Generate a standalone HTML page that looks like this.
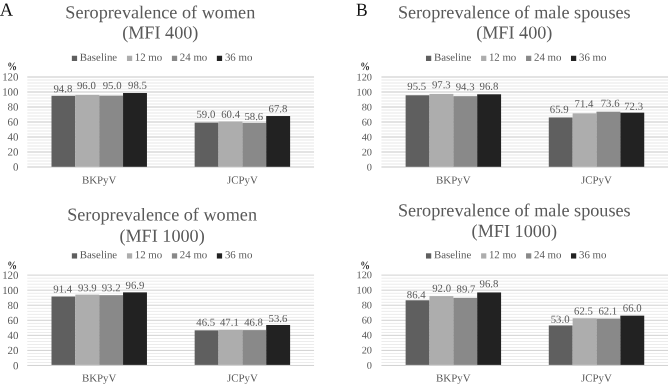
<!DOCTYPE html><html><head><meta charset="utf-8"><title>Seroprevalence</title>
<style>html,body{margin:0;padding:0;background:#fff;overflow:hidden}svg{display:block;will-change:transform;text-rendering:geometricPrecision}text{font-family:"Liberation Serif", serif;fill:#595959}</style></head><body>
<svg width="668" height="385" viewBox="0 0 668 385">
<rect width="668" height="385" fill="#fff"/>
<text x="-0.2" y="15.85" font-size="18.5" style="fill:#111" transform="rotate(0.03 -0.2 15.85)">A</text>
<text x="356.0" y="15.7" font-size="18.3" textLength="11.7" lengthAdjust="spacingAndGlyphs" style="fill:#111" transform="rotate(0.03 356.0 15.7)">B</text>
<rect x="27.27" y="163.50" width="286.79" height="1.0" fill="#e8e8e8"/>
<rect x="27.27" y="160.50" width="286.79" height="1.0" fill="#e8e8e8"/>
<rect x="27.27" y="157.50" width="286.79" height="1.0" fill="#e8e8e8"/>
<rect x="27.27" y="154.50" width="286.79" height="1.0" fill="#e8e8e8"/>
<rect x="27.27" y="148.50" width="286.79" height="1.0" fill="#e8e8e8"/>
<rect x="27.27" y="145.50" width="286.79" height="1.0" fill="#e8e8e8"/>
<rect x="27.27" y="142.50" width="286.79" height="1.0" fill="#e8e8e8"/>
<rect x="27.27" y="139.50" width="286.79" height="1.0" fill="#e8e8e8"/>
<rect x="27.27" y="133.50" width="286.79" height="1.0" fill="#e8e8e8"/>
<rect x="27.27" y="130.50" width="286.79" height="1.0" fill="#e8e8e8"/>
<rect x="27.27" y="127.50" width="286.79" height="1.0" fill="#e8e8e8"/>
<rect x="27.27" y="124.50" width="286.79" height="1.0" fill="#e8e8e8"/>
<rect x="27.27" y="118.50" width="286.79" height="1.0" fill="#e8e8e8"/>
<rect x="27.27" y="115.50" width="286.79" height="1.0" fill="#e8e8e8"/>
<rect x="27.27" y="112.50" width="286.79" height="1.0" fill="#e8e8e8"/>
<rect x="27.27" y="109.50" width="286.79" height="1.0" fill="#e8e8e8"/>
<rect x="27.27" y="103.50" width="286.79" height="1.0" fill="#e8e8e8"/>
<rect x="27.27" y="100.50" width="286.79" height="1.0" fill="#e8e8e8"/>
<rect x="27.27" y="97.50" width="286.79" height="1.0" fill="#e8e8e8"/>
<rect x="27.27" y="94.50" width="286.79" height="1.0" fill="#e8e8e8"/>
<rect x="27.27" y="88.50" width="286.79" height="1.0" fill="#e8e8e8"/>
<rect x="27.27" y="85.50" width="286.79" height="1.0" fill="#e8e8e8"/>
<rect x="27.27" y="82.50" width="286.79" height="1.0" fill="#e8e8e8"/>
<rect x="27.27" y="79.50" width="286.79" height="1.0" fill="#e8e8e8"/>
<rect x="27.27" y="166.30" width="286.79" height="1.4" fill="#d8d8d8"/>
<text x="18.47" y="170.55" font-size="10.9" text-anchor="end" transform="rotate(0.03 18.47 170.55)">0</text>
<rect x="27.27" y="151.30" width="286.79" height="1.4" fill="#d8d8d8"/>
<text x="18.47" y="155.55" font-size="10.9" text-anchor="end" transform="rotate(0.03 18.47 155.55)">20</text>
<rect x="27.27" y="136.30" width="286.79" height="1.4" fill="#d8d8d8"/>
<text x="18.47" y="140.55" font-size="10.9" text-anchor="end" transform="rotate(0.03 18.47 140.55)">40</text>
<rect x="27.27" y="121.30" width="286.79" height="1.4" fill="#d8d8d8"/>
<text x="18.47" y="125.55" font-size="10.9" text-anchor="end" transform="rotate(0.03 18.47 125.55)">60</text>
<rect x="27.27" y="106.30" width="286.79" height="1.4" fill="#d8d8d8"/>
<text x="18.47" y="110.55" font-size="10.9" text-anchor="end" transform="rotate(0.03 18.47 110.55)">80</text>
<rect x="27.27" y="91.30" width="286.79" height="1.4" fill="#d8d8d8"/>
<text x="18.47" y="95.55" font-size="10.9" text-anchor="end" transform="rotate(0.03 18.47 95.55)">100</text>
<rect x="27.27" y="76.30" width="286.79" height="1.4" fill="#d8d8d8"/>
<text x="18.47" y="80.55" font-size="10.9" text-anchor="end" transform="rotate(0.03 18.47 80.55)">120</text>
<text x="160.3" y="18.30" font-size="18.2" text-anchor="middle" transform="rotate(0.03 160.3 18.30)">Seroprevalence of women</text>
<text x="160.3" y="38.50" font-size="18.2" text-anchor="middle" transform="rotate(0.03 160.3 38.50)">(MFI 400)</text>
<rect x="71.85" y="55.75" width="5.25" height="5.25" fill="#5f5f5f"/>
<text x="79.80" y="60.75" font-size="10.85" transform="rotate(0.03 79.80 60.75)">Baseline</text>
<rect x="126.95" y="55.75" width="5.25" height="5.25" fill="#adadad"/>
<text x="134.75" y="60.75" font-size="10.85" transform="rotate(0.03 134.75 60.75)">12 mo</text>
<rect x="171.90" y="55.75" width="5.25" height="5.25" fill="#898989"/>
<text x="179.85" y="60.75" font-size="10.85" transform="rotate(0.03 179.85 60.75)">24 mo</text>
<rect x="216.85" y="55.75" width="5.25" height="5.25" fill="#222222"/>
<text x="224.90" y="60.75" font-size="10.85" transform="rotate(0.03 224.90 60.75)">36 mo</text>
<text x="12.25" y="70.3" font-size="11.4" font-weight="bold" text-anchor="middle" textLength="9.8" lengthAdjust="spacingAndGlyphs" style="fill:#2a2a2a" transform="rotate(0.03 12.25 70.3)">%</text>
<rect x="51.50" y="95.80" width="23.90" height="71.00" fill="#5f5f5f"/>
<text x="62.90" y="92.30" font-size="10.75" text-anchor="middle" transform="rotate(0.03 62.90 92.30)">94.8</text>
<rect x="75.35" y="94.90" width="23.90" height="71.90" fill="#adadad"/>
<text x="86.40" y="89.00" font-size="10.75" text-anchor="middle" transform="rotate(0.03 86.40 89.00)">96.0</text>
<rect x="99.20" y="95.65" width="23.90" height="71.15" fill="#898989"/>
<text x="112.10" y="89.00" font-size="10.75" text-anchor="middle" transform="rotate(0.03 112.10 89.00)">95.0</text>
<rect x="123.05" y="93.02" width="23.90" height="73.78" fill="#222222"/>
<text x="137.50" y="88.65" font-size="10.75" text-anchor="middle" transform="rotate(0.03 137.50 88.65)">98.5</text>
<text x="99.20" y="183.4" font-size="10.9" text-anchor="middle" transform="rotate(0.03 99.20 183.4)">BKPyV</text>
<rect x="194.66" y="122.63" width="23.90" height="44.17" fill="#5f5f5f"/>
<text x="205.90" y="117.70" font-size="10.75" text-anchor="middle" transform="rotate(0.03 205.90 117.70)">59.0</text>
<rect x="218.51" y="121.58" width="23.90" height="45.22" fill="#adadad"/>
<text x="230.60" y="117.70" font-size="10.75" text-anchor="middle" transform="rotate(0.03 230.60 117.70)">60.4</text>
<rect x="242.36" y="122.93" width="23.90" height="43.87" fill="#898989"/>
<text x="253.80" y="120.10" font-size="10.75" text-anchor="middle" transform="rotate(0.03 253.80 120.10)">58.6</text>
<rect x="266.21" y="116.03" width="23.90" height="50.77" fill="#222222"/>
<text x="278.00" y="112.30" font-size="10.75" text-anchor="middle" transform="rotate(0.03 278.00 112.30)">67.8</text>
<text x="242.36" y="183.4" font-size="10.9" text-anchor="middle" transform="rotate(0.03 242.36 183.4)">JCPyV</text>
<rect x="381.40" y="163.50" width="286.79" height="1.0" fill="#e8e8e8"/>
<rect x="381.40" y="160.50" width="286.79" height="1.0" fill="#e8e8e8"/>
<rect x="381.40" y="157.50" width="286.79" height="1.0" fill="#e8e8e8"/>
<rect x="381.40" y="154.50" width="286.79" height="1.0" fill="#e8e8e8"/>
<rect x="381.40" y="148.50" width="286.79" height="1.0" fill="#e8e8e8"/>
<rect x="381.40" y="145.50" width="286.79" height="1.0" fill="#e8e8e8"/>
<rect x="381.40" y="142.50" width="286.79" height="1.0" fill="#e8e8e8"/>
<rect x="381.40" y="139.50" width="286.79" height="1.0" fill="#e8e8e8"/>
<rect x="381.40" y="133.50" width="286.79" height="1.0" fill="#e8e8e8"/>
<rect x="381.40" y="130.50" width="286.79" height="1.0" fill="#e8e8e8"/>
<rect x="381.40" y="127.50" width="286.79" height="1.0" fill="#e8e8e8"/>
<rect x="381.40" y="124.50" width="286.79" height="1.0" fill="#e8e8e8"/>
<rect x="381.40" y="118.50" width="286.79" height="1.0" fill="#e8e8e8"/>
<rect x="381.40" y="115.50" width="286.79" height="1.0" fill="#e8e8e8"/>
<rect x="381.40" y="112.50" width="286.79" height="1.0" fill="#e8e8e8"/>
<rect x="381.40" y="109.50" width="286.79" height="1.0" fill="#e8e8e8"/>
<rect x="381.40" y="103.50" width="286.79" height="1.0" fill="#e8e8e8"/>
<rect x="381.40" y="100.50" width="286.79" height="1.0" fill="#e8e8e8"/>
<rect x="381.40" y="97.50" width="286.79" height="1.0" fill="#e8e8e8"/>
<rect x="381.40" y="94.50" width="286.79" height="1.0" fill="#e8e8e8"/>
<rect x="381.40" y="88.50" width="286.79" height="1.0" fill="#e8e8e8"/>
<rect x="381.40" y="85.50" width="286.79" height="1.0" fill="#e8e8e8"/>
<rect x="381.40" y="82.50" width="286.79" height="1.0" fill="#e8e8e8"/>
<rect x="381.40" y="79.50" width="286.79" height="1.0" fill="#e8e8e8"/>
<rect x="381.40" y="166.30" width="286.79" height="1.4" fill="#d8d8d8"/>
<text x="372.00" y="170.55" font-size="10.35" text-anchor="end" transform="rotate(0.03 372.00 170.55)">0</text>
<rect x="381.40" y="151.30" width="286.79" height="1.4" fill="#d8d8d8"/>
<text x="372.00" y="155.55" font-size="10.35" text-anchor="end" transform="rotate(0.03 372.00 155.55)">20</text>
<rect x="381.40" y="136.30" width="286.79" height="1.4" fill="#d8d8d8"/>
<text x="372.00" y="140.55" font-size="10.35" text-anchor="end" transform="rotate(0.03 372.00 140.55)">40</text>
<rect x="381.40" y="121.30" width="286.79" height="1.4" fill="#d8d8d8"/>
<text x="372.00" y="125.55" font-size="10.35" text-anchor="end" transform="rotate(0.03 372.00 125.55)">60</text>
<rect x="381.40" y="106.30" width="286.79" height="1.4" fill="#d8d8d8"/>
<text x="372.00" y="110.55" font-size="10.35" text-anchor="end" transform="rotate(0.03 372.00 110.55)">80</text>
<rect x="381.40" y="91.30" width="286.79" height="1.4" fill="#d8d8d8"/>
<text x="372.00" y="95.55" font-size="10.35" text-anchor="end" transform="rotate(0.03 372.00 95.55)">100</text>
<rect x="381.40" y="76.30" width="286.79" height="1.4" fill="#d8d8d8"/>
<text x="372.00" y="80.55" font-size="10.35" text-anchor="end" transform="rotate(0.03 372.00 80.55)">120</text>
<text x="514.3" y="18.30" font-size="18.2" text-anchor="middle" transform="rotate(0.03 514.3 18.30)">Seroprevalence of male spouses</text>
<text x="514.3" y="38.50" font-size="18.2" text-anchor="middle" transform="rotate(0.03 514.3 38.50)">(MFI 400)</text>
<rect x="425.98" y="55.75" width="5.25" height="5.25" fill="#5f5f5f"/>
<text x="433.93" y="60.75" font-size="10.85" transform="rotate(0.03 433.93 60.75)">Baseline</text>
<rect x="481.08" y="55.75" width="5.25" height="5.25" fill="#adadad"/>
<text x="488.88" y="60.75" font-size="10.85" transform="rotate(0.03 488.88 60.75)">12 mo</text>
<rect x="526.03" y="55.75" width="5.25" height="5.25" fill="#898989"/>
<text x="533.98" y="60.75" font-size="10.85" transform="rotate(0.03 533.98 60.75)">24 mo</text>
<rect x="570.98" y="55.75" width="5.25" height="5.25" fill="#222222"/>
<text x="579.03" y="60.75" font-size="10.85" transform="rotate(0.03 579.03 60.75)">36 mo</text>
<text x="365.08" y="70.3" font-size="11.4" font-weight="bold" text-anchor="middle" textLength="9.8" lengthAdjust="spacingAndGlyphs" style="fill:#2a2a2a" transform="rotate(0.03 365.08 70.3)">%</text>
<rect x="405.63" y="95.27" width="23.90" height="71.53" fill="#5f5f5f"/>
<text x="416.70" y="89.70" font-size="10.75" text-anchor="middle" transform="rotate(0.03 416.70 89.70)">95.5</text>
<rect x="429.48" y="93.92" width="23.90" height="72.88" fill="#adadad"/>
<text x="441.30" y="88.20" font-size="10.75" text-anchor="middle" transform="rotate(0.03 441.30 88.20)">97.3</text>
<rect x="453.33" y="96.17" width="23.90" height="70.63" fill="#898989"/>
<text x="465.10" y="90.20" font-size="10.75" text-anchor="middle" transform="rotate(0.03 465.10 90.20)">94.3</text>
<rect x="477.18" y="94.30" width="23.90" height="72.50" fill="#222222"/>
<text x="489.00" y="89.70" font-size="10.75" text-anchor="middle" transform="rotate(0.03 489.00 89.70)">96.8</text>
<text x="453.33" y="183.4" font-size="10.9" text-anchor="middle" transform="rotate(0.03 453.33 183.4)">BKPyV</text>
<rect x="548.79" y="117.46" width="23.90" height="49.34" fill="#5f5f5f"/>
<text x="559.20" y="112.70" font-size="10.75" text-anchor="middle" transform="rotate(0.03 559.20 112.70)">65.9</text>
<rect x="572.64" y="113.34" width="23.90" height="53.46" fill="#adadad"/>
<text x="584.00" y="107.20" font-size="10.75" text-anchor="middle" transform="rotate(0.03 584.00 107.20)">71.4</text>
<rect x="596.49" y="111.69" width="23.90" height="55.11" fill="#898989"/>
<text x="610.10" y="106.70" font-size="10.75" text-anchor="middle" transform="rotate(0.03 610.10 106.70)">73.6</text>
<rect x="620.34" y="112.66" width="23.90" height="54.14" fill="#222222"/>
<text x="633.60" y="109.70" font-size="10.75" text-anchor="middle" transform="rotate(0.03 633.60 109.70)">72.3</text>
<text x="596.49" y="183.4" font-size="10.9" text-anchor="middle" transform="rotate(0.03 596.49 183.4)">JCPyV</text>
<rect x="27.27" y="362.11" width="286.79" height="0.66" fill="#e2e2e2"/>
<rect x="27.27" y="359.10" width="286.79" height="0.66" fill="#e2e2e2"/>
<rect x="27.27" y="356.08" width="286.79" height="0.66" fill="#e2e2e2"/>
<rect x="27.27" y="353.07" width="286.79" height="0.66" fill="#e2e2e2"/>
<rect x="27.27" y="347.05" width="286.79" height="0.66" fill="#e2e2e2"/>
<rect x="27.27" y="344.04" width="286.79" height="0.66" fill="#e2e2e2"/>
<rect x="27.27" y="341.03" width="286.79" height="0.66" fill="#e2e2e2"/>
<rect x="27.27" y="338.02" width="286.79" height="0.66" fill="#e2e2e2"/>
<rect x="27.27" y="331.99" width="286.79" height="0.66" fill="#e2e2e2"/>
<rect x="27.27" y="328.98" width="286.79" height="0.66" fill="#e2e2e2"/>
<rect x="27.27" y="325.97" width="286.79" height="0.66" fill="#e2e2e2"/>
<rect x="27.27" y="322.96" width="286.79" height="0.66" fill="#e2e2e2"/>
<rect x="27.27" y="316.93" width="286.79" height="0.66" fill="#e2e2e2"/>
<rect x="27.27" y="313.92" width="286.79" height="0.66" fill="#e2e2e2"/>
<rect x="27.27" y="310.91" width="286.79" height="0.66" fill="#e2e2e2"/>
<rect x="27.27" y="307.90" width="286.79" height="0.66" fill="#e2e2e2"/>
<rect x="27.27" y="301.88" width="286.79" height="0.66" fill="#e2e2e2"/>
<rect x="27.27" y="298.86" width="286.79" height="0.66" fill="#e2e2e2"/>
<rect x="27.27" y="295.85" width="286.79" height="0.66" fill="#e2e2e2"/>
<rect x="27.27" y="292.84" width="286.79" height="0.66" fill="#e2e2e2"/>
<rect x="27.27" y="286.82" width="286.79" height="0.66" fill="#e2e2e2"/>
<rect x="27.27" y="283.81" width="286.79" height="0.66" fill="#e2e2e2"/>
<rect x="27.27" y="280.79" width="286.79" height="0.66" fill="#e2e2e2"/>
<rect x="27.27" y="277.78" width="286.79" height="0.66" fill="#e2e2e2"/>
<rect x="27.27" y="364.95" width="286.79" height="1.0" fill="#d1d1d1"/>
<text x="18.47" y="369.20" font-size="10.9" text-anchor="end" transform="rotate(0.03 18.47 369.20)">0</text>
<rect x="27.27" y="349.89" width="286.79" height="1.0" fill="#d1d1d1"/>
<text x="18.47" y="354.14" font-size="10.9" text-anchor="end" transform="rotate(0.03 18.47 354.14)">20</text>
<rect x="27.27" y="334.83" width="286.79" height="1.0" fill="#d1d1d1"/>
<text x="18.47" y="339.08" font-size="10.9" text-anchor="end" transform="rotate(0.03 18.47 339.08)">40</text>
<rect x="27.27" y="319.77" width="286.79" height="1.0" fill="#d1d1d1"/>
<text x="18.47" y="324.02" font-size="10.9" text-anchor="end" transform="rotate(0.03 18.47 324.02)">60</text>
<rect x="27.27" y="304.72" width="286.79" height="1.0" fill="#d1d1d1"/>
<text x="18.47" y="308.97" font-size="10.9" text-anchor="end" transform="rotate(0.03 18.47 308.97)">80</text>
<rect x="27.27" y="289.66" width="286.79" height="1.0" fill="#d1d1d1"/>
<text x="18.47" y="293.91" font-size="10.9" text-anchor="end" transform="rotate(0.03 18.47 293.91)">100</text>
<rect x="27.27" y="274.60" width="286.79" height="1.0" fill="#d1d1d1"/>
<text x="18.47" y="278.85" font-size="10.9" text-anchor="end" transform="rotate(0.03 18.47 278.85)">120</text>
<text x="162.1" y="220.45" font-size="18.2" text-anchor="middle" transform="rotate(0.03 162.1 220.45)">Seroprevalence of women</text>
<text x="162.1" y="241.70" font-size="18.2" text-anchor="middle" transform="rotate(0.03 162.1 241.70)">(MFI 1000)</text>
<rect x="71.85" y="253.30" width="5.25" height="5.25" fill="#5f5f5f"/>
<text x="79.80" y="258.30" font-size="10.85" transform="rotate(0.03 79.80 258.30)">Baseline</text>
<rect x="126.95" y="253.30" width="5.25" height="5.25" fill="#adadad"/>
<text x="134.75" y="258.30" font-size="10.85" transform="rotate(0.03 134.75 258.30)">12 mo</text>
<rect x="171.90" y="253.30" width="5.25" height="5.25" fill="#898989"/>
<text x="179.85" y="258.30" font-size="10.85" transform="rotate(0.03 179.85 258.30)">24 mo</text>
<rect x="216.85" y="253.30" width="5.25" height="5.25" fill="#222222"/>
<text x="224.90" y="258.30" font-size="10.85" transform="rotate(0.03 224.90 258.30)">36 mo</text>
<text x="12.25" y="269.40000000000003" font-size="11.4" font-weight="bold" text-anchor="middle" textLength="9.8" lengthAdjust="spacingAndGlyphs" style="fill:#2a2a2a" transform="rotate(0.03 12.25 269.40000000000003)">%</text>
<rect x="51.50" y="296.52" width="23.90" height="68.38" fill="#5f5f5f"/>
<text x="62.70" y="292.50" font-size="10.75" text-anchor="middle" transform="rotate(0.03 62.70 292.50)">91.4</text>
<rect x="75.35" y="294.63" width="23.90" height="70.27" fill="#adadad"/>
<text x="87.30" y="291.30" font-size="10.75" text-anchor="middle" transform="rotate(0.03 87.30 291.30)">93.9</text>
<rect x="99.20" y="295.16" width="23.90" height="69.74" fill="#898989"/>
<text x="111.10" y="291.30" font-size="10.75" text-anchor="middle" transform="rotate(0.03 111.10 291.30)">93.2</text>
<rect x="123.05" y="292.37" width="23.90" height="72.53" fill="#222222"/>
<text x="135.00" y="288.80" font-size="10.75" text-anchor="middle" transform="rotate(0.03 135.00 288.80)">96.9</text>
<text x="99.20" y="381.5" font-size="10.9" text-anchor="middle" transform="rotate(0.03 99.20 381.5)">BKPyV</text>
<rect x="194.66" y="330.33" width="23.90" height="34.57" fill="#5f5f5f"/>
<text x="205.70" y="325.80" font-size="10.75" text-anchor="middle" transform="rotate(0.03 205.70 325.80)">46.5</text>
<rect x="218.51" y="329.88" width="23.90" height="35.02" fill="#adadad"/>
<text x="229.40" y="325.80" font-size="10.75" text-anchor="middle" transform="rotate(0.03 229.40 325.80)">47.1</text>
<rect x="242.36" y="330.10" width="23.90" height="34.80" fill="#898989"/>
<text x="253.60" y="325.80" font-size="10.75" text-anchor="middle" transform="rotate(0.03 253.60 325.80)">46.8</text>
<rect x="266.21" y="324.98" width="23.90" height="39.92" fill="#222222"/>
<text x="278.00" y="322.00" font-size="10.75" text-anchor="middle" transform="rotate(0.03 278.00 322.00)">53.6</text>
<text x="242.36" y="381.5" font-size="10.9" text-anchor="middle" transform="rotate(0.03 242.36 381.5)">JCPyV</text>
<rect x="381.40" y="362.11" width="286.79" height="0.66" fill="#e2e2e2"/>
<rect x="381.40" y="359.10" width="286.79" height="0.66" fill="#e2e2e2"/>
<rect x="381.40" y="356.08" width="286.79" height="0.66" fill="#e2e2e2"/>
<rect x="381.40" y="353.07" width="286.79" height="0.66" fill="#e2e2e2"/>
<rect x="381.40" y="347.05" width="286.79" height="0.66" fill="#e2e2e2"/>
<rect x="381.40" y="344.04" width="286.79" height="0.66" fill="#e2e2e2"/>
<rect x="381.40" y="341.03" width="286.79" height="0.66" fill="#e2e2e2"/>
<rect x="381.40" y="338.02" width="286.79" height="0.66" fill="#e2e2e2"/>
<rect x="381.40" y="331.99" width="286.79" height="0.66" fill="#e2e2e2"/>
<rect x="381.40" y="328.98" width="286.79" height="0.66" fill="#e2e2e2"/>
<rect x="381.40" y="325.97" width="286.79" height="0.66" fill="#e2e2e2"/>
<rect x="381.40" y="322.96" width="286.79" height="0.66" fill="#e2e2e2"/>
<rect x="381.40" y="316.93" width="286.79" height="0.66" fill="#e2e2e2"/>
<rect x="381.40" y="313.92" width="286.79" height="0.66" fill="#e2e2e2"/>
<rect x="381.40" y="310.91" width="286.79" height="0.66" fill="#e2e2e2"/>
<rect x="381.40" y="307.90" width="286.79" height="0.66" fill="#e2e2e2"/>
<rect x="381.40" y="301.88" width="286.79" height="0.66" fill="#e2e2e2"/>
<rect x="381.40" y="298.86" width="286.79" height="0.66" fill="#e2e2e2"/>
<rect x="381.40" y="295.85" width="286.79" height="0.66" fill="#e2e2e2"/>
<rect x="381.40" y="292.84" width="286.79" height="0.66" fill="#e2e2e2"/>
<rect x="381.40" y="286.82" width="286.79" height="0.66" fill="#e2e2e2"/>
<rect x="381.40" y="283.81" width="286.79" height="0.66" fill="#e2e2e2"/>
<rect x="381.40" y="280.79" width="286.79" height="0.66" fill="#e2e2e2"/>
<rect x="381.40" y="277.78" width="286.79" height="0.66" fill="#e2e2e2"/>
<rect x="381.40" y="364.95" width="286.79" height="1.0" fill="#d1d1d1"/>
<text x="372.00" y="368.70" font-size="10.35" text-anchor="end" transform="rotate(0.03 372.00 368.70)">0</text>
<rect x="381.40" y="349.89" width="286.79" height="1.0" fill="#d1d1d1"/>
<text x="372.00" y="353.64" font-size="10.35" text-anchor="end" transform="rotate(0.03 372.00 353.64)">20</text>
<rect x="381.40" y="334.83" width="286.79" height="1.0" fill="#d1d1d1"/>
<text x="372.00" y="338.58" font-size="10.35" text-anchor="end" transform="rotate(0.03 372.00 338.58)">40</text>
<rect x="381.40" y="319.77" width="286.79" height="1.0" fill="#d1d1d1"/>
<text x="372.00" y="323.52" font-size="10.35" text-anchor="end" transform="rotate(0.03 372.00 323.52)">60</text>
<rect x="381.40" y="304.72" width="286.79" height="1.0" fill="#d1d1d1"/>
<text x="372.00" y="308.47" font-size="10.35" text-anchor="end" transform="rotate(0.03 372.00 308.47)">80</text>
<rect x="381.40" y="289.66" width="286.79" height="1.0" fill="#d1d1d1"/>
<text x="372.00" y="293.41" font-size="10.35" text-anchor="end" transform="rotate(0.03 372.00 293.41)">100</text>
<rect x="381.40" y="274.60" width="286.79" height="1.0" fill="#d1d1d1"/>
<text x="372.00" y="278.35" font-size="10.35" text-anchor="end" transform="rotate(0.03 372.00 278.35)">120</text>
<text x="514.3" y="216.25" font-size="18.2" text-anchor="middle" transform="rotate(0.03 514.3 216.25)">Seroprevalence of male spouses</text>
<text x="514.3" y="236.90" font-size="18.2" text-anchor="middle" transform="rotate(0.03 514.3 236.90)">(MFI 1000)</text>
<rect x="425.98" y="253.30" width="5.25" height="5.25" fill="#5f5f5f"/>
<text x="433.93" y="258.30" font-size="10.85" transform="rotate(0.03 433.93 258.30)">Baseline</text>
<rect x="481.08" y="253.30" width="5.25" height="5.25" fill="#adadad"/>
<text x="488.88" y="258.30" font-size="10.85" transform="rotate(0.03 488.88 258.30)">12 mo</text>
<rect x="526.03" y="253.30" width="5.25" height="5.25" fill="#898989"/>
<text x="533.98" y="258.30" font-size="10.85" transform="rotate(0.03 533.98 258.30)">24 mo</text>
<rect x="570.98" y="253.30" width="5.25" height="5.25" fill="#222222"/>
<text x="579.03" y="258.30" font-size="10.85" transform="rotate(0.03 579.03 258.30)">36 mo</text>
<text x="365.08" y="269.40000000000003" font-size="11.4" font-weight="bold" text-anchor="middle" textLength="9.8" lengthAdjust="spacingAndGlyphs" style="fill:#2a2a2a" transform="rotate(0.03 365.08 269.40000000000003)">%</text>
<rect x="405.63" y="300.28" width="23.90" height="64.62" fill="#5f5f5f"/>
<text x="416.20" y="298.30" font-size="10.75" text-anchor="middle" transform="rotate(0.03 416.20 298.30)">86.4</text>
<rect x="429.48" y="296.06" width="23.90" height="68.84" fill="#adadad"/>
<text x="441.60" y="291.70" font-size="10.75" text-anchor="middle" transform="rotate(0.03 441.60 291.70)">92.0</text>
<rect x="453.33" y="297.80" width="23.90" height="67.10" fill="#898989"/>
<text x="466.00" y="292.60" font-size="10.75" text-anchor="middle" transform="rotate(0.03 466.00 292.60)">89.7</text>
<rect x="477.18" y="292.45" width="23.90" height="72.45" fill="#222222"/>
<text x="489.00" y="287.20" font-size="10.75" text-anchor="middle" transform="rotate(0.03 489.00 287.20)">96.8</text>
<text x="453.33" y="381.5" font-size="10.9" text-anchor="middle" transform="rotate(0.03 453.33 381.5)">BKPyV</text>
<rect x="548.79" y="325.44" width="23.90" height="39.46" fill="#5f5f5f"/>
<text x="560.10" y="322.70" font-size="10.75" text-anchor="middle" transform="rotate(0.03 560.10 322.70)">53.0</text>
<rect x="572.64" y="318.28" width="23.90" height="46.62" fill="#adadad"/>
<text x="583.50" y="314.60" font-size="10.75" text-anchor="middle" transform="rotate(0.03 583.50 314.60)">62.5</text>
<rect x="596.49" y="318.58" width="23.90" height="46.32" fill="#898989"/>
<text x="607.80" y="314.60" font-size="10.75" text-anchor="middle" transform="rotate(0.03 607.80 314.60)">62.1</text>
<rect x="620.34" y="315.65" width="23.90" height="49.25" fill="#222222"/>
<text x="632.20" y="311.60" font-size="10.75" text-anchor="middle" transform="rotate(0.03 632.20 311.60)">66.0</text>
<text x="596.49" y="381.5" font-size="10.9" text-anchor="middle" transform="rotate(0.03 596.49 381.5)">JCPyV</text>
</svg></body></html>
